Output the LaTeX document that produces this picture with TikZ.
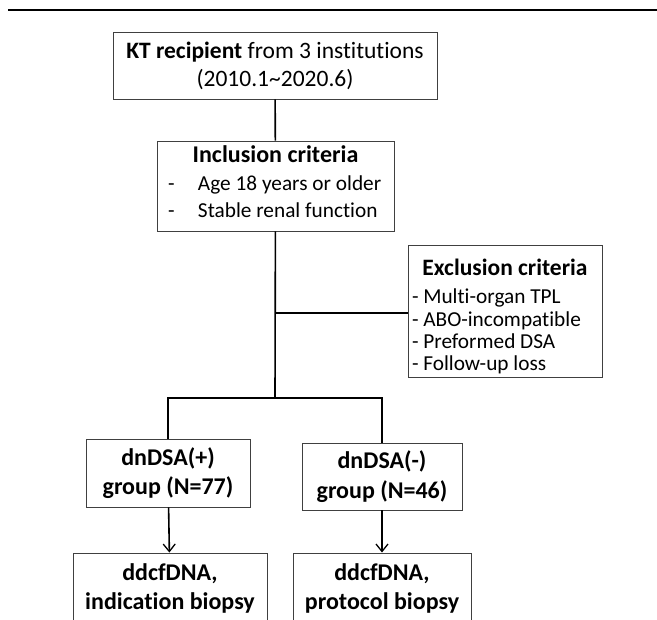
\documentclass[tikz,border=0pt]{standalone}
\usepackage{fontspec}
\setmainfont{Carlito}[Ligatures=NoCommon]
\usetikzlibrary{positioning,arrows,arrows.meta}

\begin{document}
\begin{tikzpicture}[x=1pt,y=-1pt,
    box/.style={draw=black!75,line width=0.9pt,fill=white,inner sep=0pt,align=center,
        font=\fontsize{23.5}{28}\selectfont},
    boldbox/.style={box,font=\fontsize{24}{29.5}\selectfont\bfseries},
    link/.style={line width=1.6pt},
    >={Straight Barb[length=7.5pt,width=12pt,line width=1.3pt]}]
        \useasboundingbox (0,0) rectangle (657,620);
        \clip (0,0) rectangle (657,620);
        \draw[line width=2.6pt] (8,10) -- (657,10);
        \node[box,minimum width=324,minimum height=67] at (275,65.5) (kt)
            {\textbf{KT recipient} from 3 institutions\\(2010.1\textasciitilde 2020.6)};
        \node[box,font=\fontsize{24}{28}\selectfont,minimum width=237,minimum height=90] at (275.5,186) (incl)
            {\textbf{Inclusion criteria}\\
             \fontsize{21.3}{27}\selectfont
             \begin{tabular}[t]{@{}p{30pt}@{}p{185pt}@{}}-&Age 18 years or older\\-&Stable renal function\end{tabular}};
        \node[box,font=\fontsize{23.5}{26}\selectfont,minimum width=194,minimum height=131] at (505,311.5) (excl)
            {\rule{0pt}{30pt}\textbf{Exclusion criteria}\\[2pt]
             \fontsize{21.3}{22.3}\selectfont
             \begin{tabular}[t]{@{}p{186pt}@{}}- Multi-organ TPL\\- ABO-incompatible\\- Preformed DSA\\- Follow-up loss\end{tabular}};
        \node[boldbox,minimum width=164,minimum height=68] at (168,473) (pos)
            {dnDSA(+)\\group (N=77)};
        \node[boldbox,minimum width=160,minimum height=67] at (382,476.5) (neg)
            {dnDSA(-)\\group (N=46)};
        \node[boldbox,minimum width=194,minimum height=71] at (170,588.5) (posres)
            {ddcfDNA,\\indication biopsy};
        \node[boldbox,minimum width=178,minimum height=71] at (382,588.5) (negres)
            {ddcfDNA,\\protocol biopsy};
        \coordinate (excljoin) at (275,313);
        \coordinate (split) at (275,398);
        \draw[link] (kt) -- (incl);
        \draw[link] (incl) -- (split);
        \draw[link] (excljoin) -- (excl.west |- excljoin);
        \draw[link] (pos) |- (split) -| (neg);
        \path[->,link]
        (pos) edge (posres)
        (neg) edge (negres)
        ;
    \end{tikzpicture}
\end{document}
